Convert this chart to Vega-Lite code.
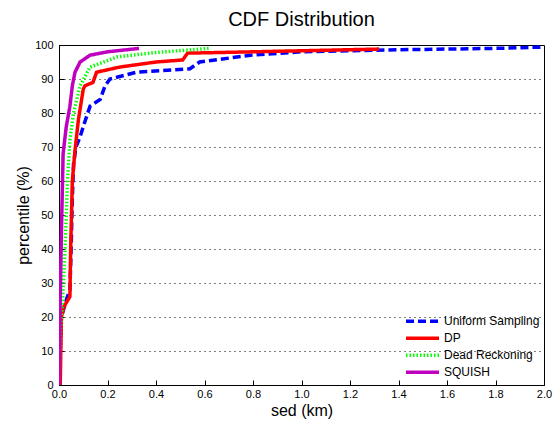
{
  "$schema": "https://vega.github.io/schema/vega-lite/v6.json",
  "autosize": "none",
  "width": 485,
  "height": 340,
  "padding": {"left": 59, "top": 45, "right": 9, "bottom": 39},
  "background": "white",
  "config": {
    "font": "Liberation Sans",
    "view": {"stroke": "black", "strokeWidth": 1}
  },
  "title": {"text": "CDF Distribution", "fontSize": 20, "fontWeight": "normal", "font": "Liberation Sans", "color": "black", "offset": 9, "anchor": "middle"},
  "data": {"values": [
    {"method": "Uniform Sampling", "sed": 0, "pct": 0},
    {"method": "Uniform Sampling", "sed": 0.005, "pct": 10},
    {"method": "Uniform Sampling", "sed": 0.01, "pct": 20},
    {"method": "Uniform Sampling", "sed": 0.03, "pct": 25},
    {"method": "Uniform Sampling", "sed": 0.045, "pct": 28},
    {"method": "Uniform Sampling", "sed": 0.05, "pct": 40},
    {"method": "Uniform Sampling", "sed": 0.055, "pct": 55},
    {"method": "Uniform Sampling", "sed": 0.06, "pct": 65},
    {"method": "Uniform Sampling", "sed": 0.07, "pct": 70},
    {"method": "Uniform Sampling", "sed": 0.087, "pct": 73},
    {"method": "Uniform Sampling", "sed": 0.1, "pct": 76},
    {"method": "Uniform Sampling", "sed": 0.128, "pct": 82},
    {"method": "Uniform Sampling", "sed": 0.17, "pct": 84},
    {"method": "Uniform Sampling", "sed": 0.19, "pct": 88},
    {"method": "Uniform Sampling", "sed": 0.21, "pct": 90},
    {"method": "Uniform Sampling", "sed": 0.32, "pct": 92},
    {"method": "Uniform Sampling", "sed": 0.54, "pct": 93},
    {"method": "Uniform Sampling", "sed": 0.58, "pct": 95},
    {"method": "Uniform Sampling", "sed": 0.79, "pct": 97},
    {"method": "Uniform Sampling", "sed": 1.0, "pct": 98},
    {"method": "Uniform Sampling", "sed": 1.4, "pct": 98.6},
    {"method": "Uniform Sampling", "sed": 1.8, "pct": 99},
    {"method": "Uniform Sampling", "sed": 2.0, "pct": 99.4},
    {"method": "DP", "sed": 0.005, "pct": 0},
    {"method": "DP", "sed": 0.01, "pct": 20},
    {"method": "DP", "sed": 0.02, "pct": 23},
    {"method": "DP", "sed": 0.045, "pct": 26},
    {"method": "DP", "sed": 0.048, "pct": 40},
    {"method": "DP", "sed": 0.055, "pct": 60},
    {"method": "DP", "sed": 0.066, "pct": 69},
    {"method": "DP", "sed": 0.08, "pct": 78},
    {"method": "DP", "sed": 0.1, "pct": 87},
    {"method": "DP", "sed": 0.107, "pct": 88},
    {"method": "DP", "sed": 0.14, "pct": 89},
    {"method": "DP", "sed": 0.155, "pct": 92},
    {"method": "DP", "sed": 0.25, "pct": 93.5},
    {"method": "DP", "sed": 0.4, "pct": 95},
    {"method": "DP", "sed": 0.51, "pct": 95.6},
    {"method": "DP", "sed": 0.53, "pct": 97.6},
    {"method": "DP", "sed": 0.8, "pct": 98},
    {"method": "DP", "sed": 1.0, "pct": 98.3},
    {"method": "DP", "sed": 1.32, "pct": 98.8},
    {"method": "Dead Reckoning", "sed": 0, "pct": 0},
    {"method": "Dead Reckoning", "sed": 0.005, "pct": 15},
    {"method": "Dead Reckoning", "sed": 0.015, "pct": 25},
    {"method": "Dead Reckoning", "sed": 0.025, "pct": 40},
    {"method": "Dead Reckoning", "sed": 0.035, "pct": 60},
    {"method": "Dead Reckoning", "sed": 0.045, "pct": 72},
    {"method": "Dead Reckoning", "sed": 0.06, "pct": 80},
    {"method": "Dead Reckoning", "sed": 0.087, "pct": 88},
    {"method": "Dead Reckoning", "sed": 0.128, "pct": 93.5},
    {"method": "Dead Reckoning", "sed": 0.24, "pct": 96.5},
    {"method": "Dead Reckoning", "sed": 0.4, "pct": 97.8},
    {"method": "Dead Reckoning", "sed": 0.62, "pct": 99},
    {"method": "SQUISH", "sed": 0, "pct": 0},
    {"method": "SQUISH", "sed": 0.003, "pct": 15},
    {"method": "SQUISH", "sed": 0.005, "pct": 25},
    {"method": "SQUISH", "sed": 0.01, "pct": 45},
    {"method": "SQUISH", "sed": 0.017, "pct": 68},
    {"method": "SQUISH", "sed": 0.03, "pct": 76},
    {"method": "SQUISH", "sed": 0.045, "pct": 82},
    {"method": "SQUISH", "sed": 0.055, "pct": 88},
    {"method": "SQUISH", "sed": 0.066, "pct": 92},
    {"method": "SQUISH", "sed": 0.087, "pct": 95},
    {"method": "SQUISH", "sed": 0.128, "pct": 97},
    {"method": "SQUISH", "sed": 0.2, "pct": 98},
    {"method": "SQUISH", "sed": 0.33, "pct": 99}
  ]},
  "mark": {"type": "line", "strokeWidth": 3.5, "clip": true},
  "encoding": {
    "x": {"field": "sed", "type": "quantitative", "scale": {"domain": [0, 2], "nice": false},
      "axis": {"title": "sed (km)", "titleFontSize": 16, "titleFontWeight": "normal", "titleColor": "black", "titlePadding": 3,
        "values": [0, 0.2, 0.4, 0.6, 0.8, 1, 1.2, 1.4, 1.6, 1.8, 2], "labelFontSize": 11, "labelColor": "black", "labelFlush": false,
        "tickSize": -5, "tickColor": "black", "domainColor": "black", "grid": false, "labelPadding": 8}},
    "y": {"field": "pct", "type": "quantitative", "scale": {"domain": [0, 100], "nice": false},
      "axis": {"title": "percentile (%)", "titleFontSize": 16, "titleFontWeight": "normal", "titleColor": "black", "titlePadding": 3,
        "values": [0, 10, 20, 30, 40, 50, 60, 70, 80, 90, 100], "labelFontSize": 11, "labelColor": "black", "labelFlush": false,
        "tickSize": -5, "tickColor": "black", "domainColor": "black", "labelPadding": 11,
        "grid": true, "gridColor": "black", "gridDash": [1, 4], "gridOpacity": 1}},
    "color": {"field": "method", "type": "nominal",
      "scale": {"domain": ["Uniform Sampling", "DP", "Dead Reckoning", "SQUISH"], "range": ["#0000FF", "#FF0000", "#00FF00", "#BF00BF"]},
      "legend": {"title": null, "orient": "none", "legendX": 345, "legendY": 268, "symbolType": "stroke", "symbolSize": 1089, "symbolStrokeWidth": 3.5,
        "labelFontSize": 12, "labelColor": "black", "rowPadding": 0, "clipHeight": 16.3, "labelOffset": 3}},
    "strokeDash": {"field": "method", "type": "nominal",
      "scale": {"domain": ["Uniform Sampling", "DP", "Dead Reckoning", "SQUISH"], "range": [[8, 4], [1, 0], [1.5, 2], [1, 0]]},
      "legend": {"title": null, "orient": "none", "legendX": 345, "legendY": 268, "symbolType": "stroke", "symbolSize": 1089, "symbolStrokeWidth": 3.5,
        "labelFontSize": 12, "labelColor": "black", "rowPadding": 0, "clipHeight": 16.3, "labelOffset": 3}},
    "order": {"field": "pct", "type": "quantitative"}
  }
}
